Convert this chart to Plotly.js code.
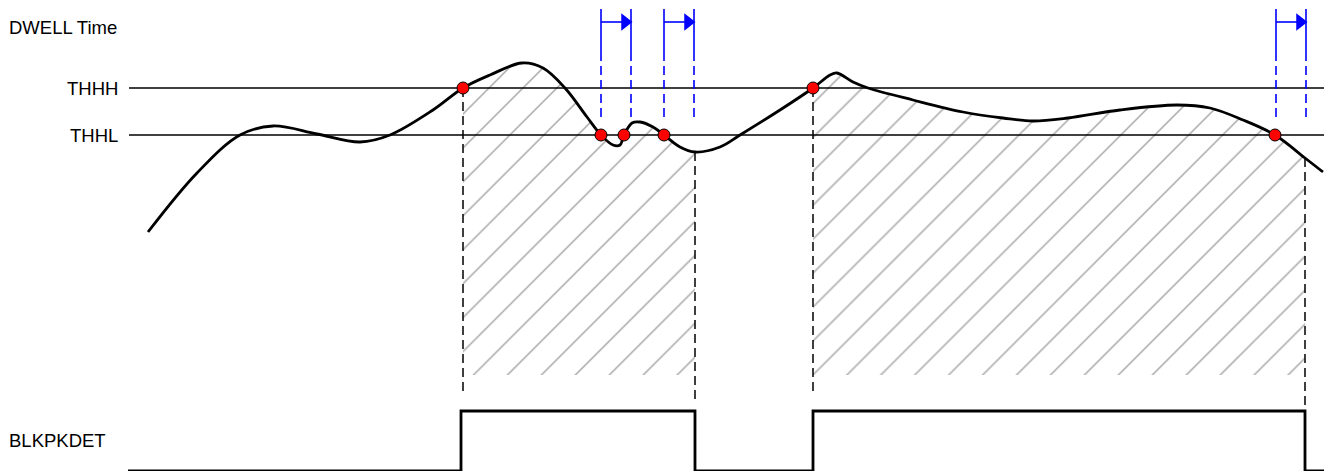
<!DOCTYPE html>
<html>
<head>
<meta charset="utf-8">
<script src="https://cdn.plot.ly/plotly-3.0.1.min.js"></script>
<style>html,body{margin:0;padding:0;background:#fff;}#chart{width:1324px;height:471px;}</style>
</head>
<body>
<div id="chart"></div>
<script>
// ---- data (diagram units: horizontal time, vertical signal level) ----
const curveX = [148,197,240,273,317,360,390,433,463,490,522,543,565,587,601,613,620,624,632,640,653,664,680,695,720,740,780,813,830,837,853,868,913,963,1003,1033,1068,1120,1177,1210,1243,1275,1305,1323];
const curveY = [232,173,135,126,134,142,135,110,88,75,63,68,88,117,135,145,145,135,123,122,127,135,147,152,147,135,110,88,75,73,82,88,100,112,118,121,118,110,105,108,120,135,158,172];

const thresholdNames = ['THHH', 'THHL'];
const thresholdLevels = [88, 135];
const thresholdStart = 129;
const thresholdEnd = 1324;

const crossX = [463, 601, 624, 664, 813, 1275];
const crossY = [88, 135, 135, 135, 88, 135];

const hatchStart = [463, 813];
const hatchEnd = [695, 1305];
const hatchBottom = 375;
const markerBottomStart = [393, 393];
const markerBottomEnd = [400, 408];

const dwellStart = [601, 664, 1276];
const dwellEnd = [631, 694, 1306];
const dwellTop = 9;
const dwellSolidEnd = 52;
const dwellDashEnd = 118;
const dwellArrowY = 22;

const blkEdges = [461, 695, 813, 1305];
const blkBegin = 128;
const blkFinish = 1324;
const blkLow = 471;
const blkHigh = 411;

const labelDwell = 'DWELL Time';
const labelBlk = 'BLKPKDET';

// ---- build traces ----
const traces = [];
const BLACK = '#000000';
const BLUE = '#0000FF';
const SMOOTH = 1.0;

// hatched areas
for (let i = 0; i < hatchStart.length; i++) {
  const a = hatchStart[i], b = hatchEnd[i];
  traces.push({x: [a, b], y: [hatchBottom, hatchBottom], mode: 'lines', line: {width: 0}, hoverinfo: 'skip', showlegend: false});
  const sx = [], sy = [];
  for (let k = 0; k < curveX.length; k++) {
    if (curveX[k] >= a && curveX[k] <= b) { sx.push(curveX[k]); sy.push(curveY[k]); }
  }
  traces.push({x: sx, y: sy, mode: 'lines', line: {width: 0, shape: 'spline', smoothing: SMOOTH}, fill: 'tonexty',
    fillcolor: 'rgba(0,0,0,0)',
    fillpattern: {shape: '/', size: 24, solidity: 0.06, fgcolor: '#a6a6a6', bgcolor: 'rgba(0,0,0,0)'},
    hoverinfo: 'skip', showlegend: false});
}

// threshold lines
for (let i = 0; i < thresholdLevels.length; i++) {
  traces.push({x: [thresholdStart, thresholdEnd], y: [thresholdLevels[i], thresholdLevels[i]], mode: 'lines',
    line: {color: BLACK, width: 1.3}, hoverinfo: 'skip', showlegend: false});
}

// black dashed verticals
function curveAt(x) {
  for (let k = 0; k < curveX.length - 1; k++) {
    if (x >= curveX[k] && x <= curveX[k + 1]) {
      const t = (x - curveX[k]) / (curveX[k + 1] - curveX[k]);
      return curveY[k] + t * (curveY[k + 1] - curveY[k]);
    }
  }
  return curveY[curveY.length - 1];
}
for (let i = 0; i < hatchStart.length; i++) {
  traces.push({x: [hatchStart[i], hatchStart[i]], y: [curveAt(hatchStart[i]), markerBottomStart[i]], mode: 'lines',
    line: {color: BLACK, width: 1.5, dash: '9px,5px'}, hoverinfo: 'skip', showlegend: false});
  traces.push({x: [hatchEnd[i], hatchEnd[i]], y: [curveAt(hatchEnd[i]), markerBottomEnd[i]], mode: 'lines',
    line: {color: BLACK, width: 1.5, dash: '9px,5px'}, hoverinfo: 'skip', showlegend: false});
}

// dwell markers
for (let i = 0; i < dwellStart.length; i++) {
  [dwellStart[i], dwellEnd[i]].forEach(function (x) {
    traces.push({x: [x, x], y: [dwellTop, dwellSolidEnd], mode: 'lines', line: {color: BLUE, width: 1.6}, hoverinfo: 'skip', showlegend: false});
    traces.push({x: [x, x], y: [dwellSolidEnd, dwellDashEnd], mode: 'lines', line: {color: BLUE, width: 1.6, dash: '9px,5px'}, hoverinfo: 'skip', showlegend: false});
  });
  traces.push({x: [dwellStart[i], dwellEnd[i] - 8], y: [dwellArrowY, dwellArrowY], mode: 'lines', line: {color: BLUE, width: 1.6}, hoverinfo: 'skip', showlegend: false});
  traces.push({x: [dwellEnd[i] - 6], y: [dwellArrowY], mode: 'markers', marker: {symbol: 'triangle-right', size: 15, color: BLUE, line: {width: 0}}, hoverinfo: 'skip', showlegend: false});
}

// main curve
traces.push({x: curveX, y: curveY, mode: 'lines', line: {color: BLACK, width: 2.8, shape: 'spline', smoothing: SMOOTH}, hoverinfo: 'skip', showlegend: false});

// BLKPKDET signal
const bx = [blkBegin], by = [blkLow];
let level = blkLow;
blkEdges.forEach(function (e) {
  bx.push(e); by.push(level);
  level = (level === blkLow) ? blkHigh : blkLow;
  bx.push(e); by.push(level);
});
bx.push(blkFinish); by.push(level);
traces.push({x: bx, y: by, mode: 'lines', line: {color: BLACK, width: 2.8}, hoverinfo: 'skip', showlegend: false});

// crossing dots
traces.push({x: crossX, y: crossY, mode: 'markers', marker: {symbol: 'circle', size: 12, color: '#FF0000', line: {color: '#000000', width: 1}}, hoverinfo: 'skip', showlegend: false});

// ---- labels ----
const FONT = {family: 'Arial, "Liberation Sans", sans-serif', size: 18.5, color: '#000000'};
const annotations = [];
annotations.push({x: 7, y: 27, xref: 'x', yref: 'y', text: labelDwell, showarrow: false, xanchor: 'left', yanchor: 'middle', font: FONT});
annotations.push({x: 7, y: 440, xref: 'x', yref: 'y', text: labelBlk, showarrow: false, xanchor: 'left', yanchor: 'middle', font: FONT});
for (let i = 0; i < thresholdNames.length; i++) {
  annotations.push({x: 120, y: thresholdLevels[i], xref: 'x', yref: 'y', text: thresholdNames[i], showarrow: false, xanchor: 'right', yanchor: 'middle', font: FONT});
}

const layout = {
  width: 1324, height: 471,
  margin: {l: 0, r: 0, t: 0, b: 0, pad: 0},
  paper_bgcolor: '#ffffff', plot_bgcolor: '#ffffff',
  xaxis: {range: [0, 1324], visible: false, fixedrange: true},
  yaxis: {range: [471, 0], visible: false, fixedrange: true},
  showlegend: false,
  annotations: annotations
};

Plotly.newPlot('chart', traces, layout, {staticPlot: true, displayModeBar: false});
</script>
</body>
</html>
